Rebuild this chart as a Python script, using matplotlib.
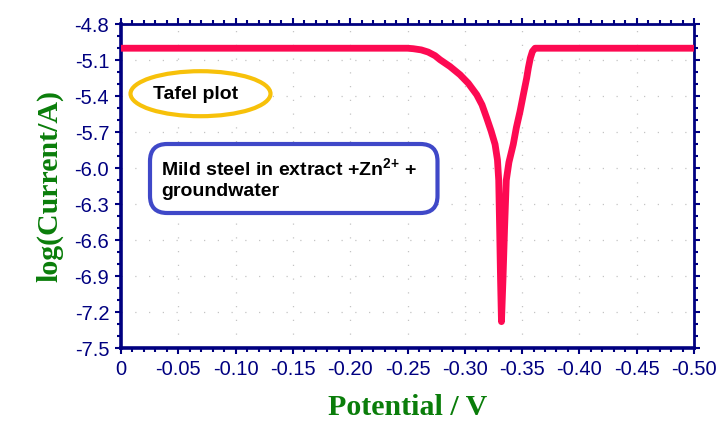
import matplotlib
matplotlib.use("Agg")
import matplotlib.pyplot as plt
from matplotlib.patches import Ellipse, FancyBboxPatch
from matplotlib.ticker import MultipleLocator, FuncFormatter

plt.rcParams["mathtext.fontset"] = "custom"
plt.rcParams["mathtext.rm"] = "Liberation Sans:bold"
plt.rcParams["mathtext.bf"] = "Liberation Sans:bold"
plt.rcParams["mathtext.it"] = "Liberation Sans:bold"

# ---- data ----
potential = [0.0, -0.05, -0.10, -0.15, -0.20, -0.25, -0.255, -0.262, -0.268,
             -0.274, -0.2784, -0.287, -0.2958, -0.303, -0.3104, -0.315,
             -0.3191, -0.323, -0.3264, -0.3285, -0.3296, -0.3304, -0.3312,
             -0.332, -0.3333, -0.3347, -0.3362, -0.3385, -0.3423, -0.345,
             -0.3482, -0.3512, -0.354, -0.3555, -0.3572, -0.3590, -0.3613,
             -0.40, -0.45, -0.50]
log_current = [-4.998, -4.998, -4.998, -4.998, -4.998, -4.998, -5.002, -5.012,
               -5.03, -5.06, -5.094, -5.15, -5.219, -5.29, -5.386, -5.47,
               -5.58, -5.69, -5.80, -5.93, -6.1, -6.5, -6.93,
               -7.28, -6.93, -6.5, -6.1, -5.95, -5.80, -5.66,
               -5.525, -5.38, -5.247, -5.16, -5.08, -5.025, -4.998,
               -4.998, -4.998, -4.998]

x_ticks = [0, -0.05, -0.10, -0.15, -0.20, -0.25, -0.30, -0.35, -0.40, -0.45, -0.50]
y_ticks = [-4.8, -5.1, -5.4, -5.7, -6.0, -6.3, -6.6, -6.9, -7.2, -7.5]

title_label = "Tafel plot"
box_label = "Mild steel in extract +Zn$^{2{+}}$ +\ngroundwater"

NAVY = "#000080"
GREEN = "#0a7d0a"
LINE = "#fd0a52"

fig = plt.figure(figsize=(7.16, 4.23), dpi=100)
W, H = 716, 423
x0, x1, ytop, ybot = 121, 694, 24.5, 348
ax = fig.add_axes([x0 / W, 1 - ybot / H, (x1 - x0) / W, (ybot - ytop) / H])

ax.plot(potential, log_current, color=LINE, lw=4.9,
        solid_capstyle="round", solid_joinstyle="round", zorder=3)

ax.set_xlim(0, -0.5)
ax.set_ylim(-7.5, -4.8)
ax.set_xticks(x_ticks)
ax.set_yticks(y_ticks)
ax.xaxis.set_minor_locator(MultipleLocator(0.01))
ax.yaxis.set_minor_locator(MultipleLocator(0.1))
ax.xaxis.set_major_formatter(FuncFormatter(lambda v, p: "0" if abs(v) < 1e-9 else f"{v:.2f}"))
ax.yaxis.set_major_formatter(FuncFormatter(lambda v, p: f"{v:.1f}"))

for s in ax.spines.values():
    s.set_color(NAVY)
    s.set_linewidth(2.0)
ax.spines["left"].set_linewidth(2.6)
ax.spines["bottom"].set_linewidth(2.6)

ax.tick_params(which="both", direction="out", color=NAVY, width=1.5,
               top=True, right=True, labeltop=False, labelright=False)
ax.tick_params(which="major", length=4.5, labelsize=14.5, labelcolor=NAVY, pad=4)
ax.tick_params(which="minor", length=2.6)
for lab in ax.get_xticklabels() + ax.get_yticklabels():
    lab.set_family("Liberation Sans")

ax.grid(True, which="major", color="#c4c4c4", linestyle=(0, (1, 10)), lw=0.9)
ax.set_axisbelow(True)

ax.set_xlabel("Potential / V", family="Liberation Serif", fontweight="bold",
              fontsize=21.5, color=GREEN, labelpad=11)
ax.set_ylabel("log(Current/A)", family="Liberation Serif", fontweight="bold",
              fontsize=21.5, color=GREEN, labelpad=8)

def fx(px):
    return (px - x0) / (x1 - x0)

def fy(py):
    return (ybot - py) / (ybot - ytop)

ell = Ellipse((fx(200.5), fy(93.7)), width=140 / (x1 - x0), height=45 / (ybot - ytop),
              transform=ax.transAxes, facecolor="white", edgecolor="#f7c10a",
              lw=3.0, zorder=4)
ax.add_patch(ell)
ax.text(fx(196), fy(95), title_label, transform=ax.transAxes, ha="center",
        va="center", fontsize=14, fontweight="bold", family="Liberation Sans",
        color="black", zorder=5)

box = FancyBboxPatch((fx(150), fy(213)), fx(437.5) - fx(150), fy(144) - fy(213),
                     boxstyle="round,pad=0,rounding_size=0.03",
                     transform=ax.transAxes, facecolor="white",
                     edgecolor="#3f48c8", lw=3.0, zorder=4,
                     mutation_aspect=(x1 - x0) / (ybot - ytop))
ax.add_patch(box)
ax.text(fx(161), fy(179), box_label, transform=ax.transAxes, ha="left",
        va="center", fontsize=14, fontweight="bold", family="Liberation Sans",
        color="black", linespacing=1.3, zorder=5)

fig.savefig("out.png", dpi=100)
